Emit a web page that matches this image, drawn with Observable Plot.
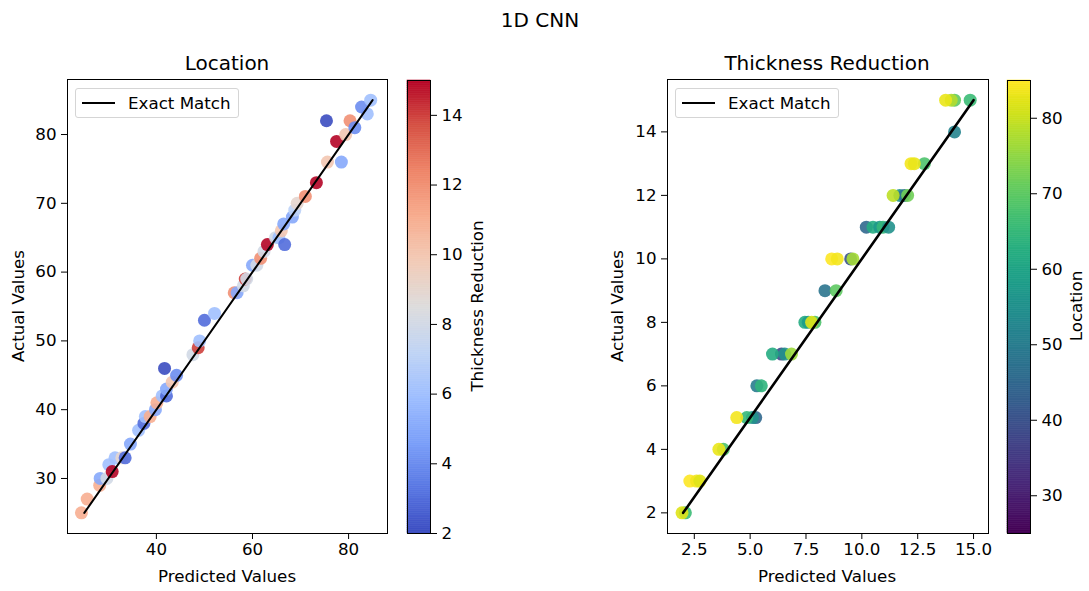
<!DOCTYPE html>
<html>
<head>
<meta charset="utf-8">
<script src="https://cdn.jsdelivr.net/npm/d3@7"></script>
<script src="https://cdn.jsdelivr.net/npm/@observablehq/plot@0.6"></script>
<style>
  html, body { margin: 0; padding: 0; background: white; }
  #fig { position: relative; width: 1089px; height: 591px; overflow: hidden; font-family: "DejaVu Sans", sans-serif; color: black; }
  .lbl { position: absolute; white-space: nowrap; transform: translate(-50%, -50%); font-size: 16.7px; line-height: 1; }
  .rot { transform: translate(-50%, -50%) rotate(-90deg); }
  .ttl { font-size: 20px; }
  .legend { position: absolute; width: 164px; height: 30px; box-sizing: border-box; border: 1px solid #d5d5d5; border-radius: 3px; background: rgba(255,255,255,0.85); }
  .legend .ln { position: absolute; left: 6px; top: 13px; width: 33px; height: 2px; background: black; }
  .legend .tx { position: absolute; left: 52px; top: 5px; font-size: 16.7px; line-height: 1.1; }
</style>
</head>
<body>
<div id="fig"></div>
<script>
// ---- Left panel: Location (predicted vs actual), colour = Thickness Reduction ----
const locPred   = [24.4, 25.6, 28.2, 28.3, 29.7, 30.1, 30.8, 31.4, 32.8, 33.5, 34.6, 36.3, 37.4, 37.7, 38.7, 39.8, 40.1, 41.2, 42.1, 42.1, 43.3, 44.2, 41.7, 47.6, 48.7, 49.0, 50.0, 52.1, 56.2, 56.8, 58.1, 58.5, 58.8, 60.0, 60.9, 61.7, 62.4, 63.1, 64.8, 65.5, 66.0, 66.5, 66.7, 68.3, 68.8, 69.3, 71.0, 73.3, 75.6, 78.5, 77.5, 79.4, 80.3, 81.3, 75.4, 83.9, 82.7, 84.6];
const locActual = [25,   27,   29,   30,   30,   32,   31,   33,   33,   33,   35,   37,   38,   39,   39,   40,   41,   42,   42,   43,   44,   45,   46,   48,   49,   50,   53,   54,   57,   57,   58,   59,   59,   61,   61,   62,   63,   64,   65,   65,   66,   67,   64,   68,   69,   70,   71,   73,   76,   76,   79,   80,   82,   81,   82,   83,   84,   85];
const locThk    = [11,   11,   11,   5,    8,    6,    15,   6,    9,    3,    5,    6,    3,    6,    11,   5,    11,   6,    3,    5,    10,   4,    2,    8,    14,   6,    3,    6,    12,   5,    8,    14,   8,    5,    8,    12,   8,    15,   8,    6,    10,   5,    3,    5,    7,    9,    12,   15,   10,   5,    15,   10,   12,   4,    2,    6,    4,    6];

// ---- Right panel: Thickness Reduction (predicted vs actual), colour = Location ----
const thkPred   = [2.10, 1.95, 2.30, 2.60, 2.75, 3.80, 3.60, 5.25, 5.10, 4.85, 4.40, 5.30, 5.50, 6.40, 6.00, 6.55, 6.85, 7.45, 7.60, 7.90, 7.75, 8.35, 8.85, 9.50, 9.60, 8.65, 8.90, 10.20, 10.50, 10.80, 10.95, 11.20, 11.70, 11.90, 12.05, 11.40, 12.80, 12.20, 12.35, 14.15, 14.85, 14.15, 14.00, 13.75];
const thkActual = [2,    2,    3,    3,    3,    4,    4,    5,    5,    5,    5,    6,    6,    7,    7,    7,    7,    8,    8,    8,    8,    9,    9,    10,   10,   10,   10,   11,    11,    11,    11,    11,    12,    12,    12,    12,    13,    13,    13,    14,    15,    15,    15,    15];
const thkLoc    = [66,   82,   85,   84,   82,   68,   83,   45,   55,   65,   84,   50,   64,   38,   62,   55,   76,   62,   58,   68,   82,   48,   70,   40,   77,   85,   84,   45,    62,    57,    65,    55,    55,    47,    72,    79,    68,    84,    83,    52,    66,    70,    78,    83];

// axis ticks
const locXTicks = [40, 60, 80];
const locYTicks = [30, 40, 50, 60, 70, 80];
const thkXTicks = [2.5, 5.0, 7.5, 10.0, 12.5, 15.0];
const thkYTicks = [2, 4, 6, 8, 10, 12, 14];
const thkCbTicks = [2, 4, 6, 8, 10, 12, 14];
const locCbTicks = [30, 40, 50, 60, 70, 80];

// coolwarm colormap stops
const coolwarmStops = ["#3b4cc0","#5977e3","#7b9ff9","#9ebeff","#c0d4f5","#dddcdc","#f2cbb7","#f7ac8e","#ee8468","#d65244","#b40426"];
const coolwarm = d3.piecewise(d3.interpolateRgb, coolwarmStops);

const leftData = locPred.map((p, i) => ({pred: p, actual: locActual[i], c: locThk[i]}));
const rightData = thkPred.map((p, i) => ({pred: p, actual: thkActual[i], c: thkLoc[i]}));
const locExt = d3.extent(locActual);
const thkExt = d3.extent(thkActual);
const leftLine = [{v: locExt[0]}, {v: locExt[1]}];
const rightLine = [{v: thkExt[0]}, {v: thkExt[1]}];

const thkColor = {type: "linear", domain: [2, 15], interpolate: coolwarm};
const locColor = {type: "linear", domain: [25, 85], scheme: "viridis"};

const baseStyle = {background: "transparent", fontFamily: "DejaVu Sans, sans-serif", fontSize: "16.7px", color: "black", overflow: "visible"};

function place(el, left) {
  el.style.position = "absolute";
  el.style.left = left + "px";
  el.style.top = "0px";
  document.getElementById("fig").appendChild(el);
}

function bands(domain, n) {
  const [lo, hi] = domain;
  const step = (hi - lo) / n;
  return d3.range(n).map(i => ({lo: lo + i * step, hi: lo + (i + 1) * step, mid: lo + (i + 0.5) * step}));
}

// Left scatter
place(Plot.plot({
  width: 400, height: 591,
  marginLeft: 67, marginRight: 13, marginTop: 79, marginBottom: 58,
  style: baseStyle,
  x: {domain: [21.5, 88.1]},
  y: {domain: [22, 88]},
  color: thkColor,
  marks: [
    Plot.dot(leftData, {x: "pred", y: "actual", fill: "c", r: 6.5, fillOpacity: 0.9, stroke: "none"}),
    Plot.line(leftLine, {x: "v", y: "v", stroke: "black", strokeWidth: 2}),
    Plot.axisX({ticks: locXTicks, tickSize: 6, tickPadding: 4, label: null}),
    Plot.axisY({ticks: locYTicks, tickSize: 6, tickPadding: 5, label: null}),
    Plot.frame({stroke: "black", strokeWidth: 1})
  ]
}), 0);

// Left colorbar
place(Plot.plot({
  width: 60, height: 591,
  marginLeft: 7, marginRight: 30, marginTop: 80, marginBottom: 58,
  style: baseStyle,
  x: {domain: [0, 1], axis: null},
  y: {domain: thkColor.domain},
  color: thkColor,
  marks: [
    Plot.rect(bands(thkColor.domain, 240), {x1: 0, x2: 1, y1: "lo", y2: "hi", fill: "mid", stroke: "mid", strokeWidth: 0.6}),
    Plot.axisY({anchor: "right", ticks: thkCbTicks, tickSize: 6, tickPadding: 5, label: null}),
    Plot.frame({stroke: "black", strokeWidth: 1})
  ]
}), 400);

// Right scatter
place(Plot.plot({
  width: 400, height: 591,
  marginLeft: 67, marginRight: 12, marginTop: 79, marginBottom: 58,
  style: baseStyle,
  x: {domain: [1.3, 15.67]},
  y: {domain: [1.35, 15.65]},
  color: locColor,
  marks: [
    Plot.dot(rightData, {x: "pred", y: "actual", fill: "c", r: 6.5, fillOpacity: 0.9, stroke: "none"}),
    Plot.line(rightLine, {x: "v", y: "v", stroke: "black", strokeWidth: 2.6}),
    Plot.axisX({ticks: thkXTicks, tickSize: 6, tickPadding: 4, tickFormat: d => d.toFixed(1), label: null}),
    Plot.axisY({ticks: thkYTicks, tickSize: 6, tickPadding: 5, label: null}),
    Plot.frame({stroke: "black", strokeWidth: 1})
  ]
}), 600);

// Right colorbar
place(Plot.plot({
  width: 89, height: 591,
  marginLeft: 7, marginRight: 59, marginTop: 80, marginBottom: 58,
  style: baseStyle,
  x: {domain: [0, 1], axis: null},
  y: {domain: locColor.domain},
  color: locColor,
  marks: [
    Plot.rect(bands(locColor.domain, 240), {x1: 0, x2: 1, y1: "lo", y2: "hi", fill: "mid", stroke: "mid", strokeWidth: 0.6}),
    Plot.axisY({anchor: "right", ticks: locCbTicks, tickSize: 6, tickPadding: 5, label: null}),
    Plot.frame({stroke: "black", strokeWidth: 1})
  ]
}), 1000);

// Text labels
const fig = document.getElementById("fig");
function label(text, x, y, cls) {
  const d = document.createElement("div");
  d.className = "lbl " + (cls || "");
  d.style.left = x + "px";
  d.style.top = y + "px";
  d.textContent = text;
  fig.appendChild(d);
}
label("1D CNN", 540, 20, "ttl");
label("Location", 227, 63, "ttl");
label("Thickness Reduction", 827, 63, "ttl");
label("Predicted Values", 227, 576);
label("Predicted Values", 827, 576);
label("Actual Values", 18, 306, "rot");
label("Actual Values", 617, 306, "rot");
label("Thickness Reduction", 477, 306, "rot");
label("Location", 1076, 306, "rot");

function legend(x, y) {
  const d = document.createElement("div");
  d.className = "legend";
  d.style.left = x + "px";
  d.style.top = y + "px";
  d.innerHTML = '<div class="ln"></div><div class="tx">Exact Match</div>';
  fig.appendChild(d);
}
legend(75, 88);
legend(675, 88);
</script>
</body>
</html>
